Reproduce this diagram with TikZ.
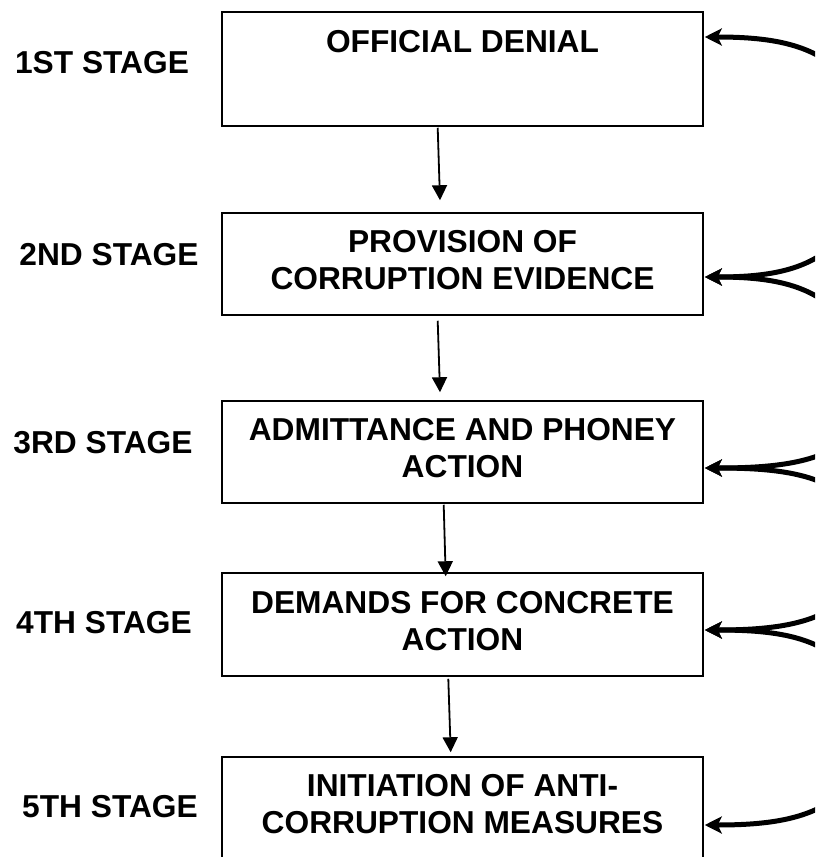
\documentclass[tikz,border=0pt]{standalone}
\usepackage{fontspec}
\setmainfont{Liberation Sans}
\usetikzlibrary{arrows.meta,positioning}
\begin{document}
\begin{tikzpicture}
[x=1pt,y=-1pt,
 box/.style = {draw, line width=1.5pt, minimum width=481pt, minimum height=102pt, inner sep=0pt, align=center, text depth=8pt, font=\fontsize{31.7}{37}\selectfont\bfseries},
 stage/.style = {inner sep=0pt, font=\fontsize{31.7}{37}\selectfont\bfseries},
 flow/.style = {line width=1.8pt, -{Triangle[length=15pt,width=15pt]}},
 back/.style = {line width=5pt, -{Stealth[length=17pt,width=17pt,inset=4pt]}},]

\useasboundingbox (0,0) rectangle (815,857);
\clip (0,0) rectangle (815,857);

% stages
\node [box, minimum height=114pt] (s1) at (462.5,69) {};
\node [stage, below=19pt of s1.north] (t1) {OFFICIAL DENIAL};
\node [box] (s2) at (462.5,264) {PROVISION OF\\CORRUPTION EVIDENCE};
\node [box] (s3) at (462.5,452) {ADMITTANCE AND PHONEY\\ACTION};
\node [box, minimum height=103pt] (s4) at (462.5,624.5) {DEMANDS FOR CONCRETE\\ACTION};
\node [box] (s5) at (462.5,808) {INITIATION OF ANTI-\\CORRUPTION MEASURES};

\node [stage] (l1) at (102,63) {1ST STAGE};
\node [stage] (l2) at (109,255) {2ND STAGE};
\node [stage] (l3) at (103,443) {3RD STAGE};
\node [stage] (l4) at (104,623) {4TH STAGE};
\node [stage] (l5) at (110,807) {5TH STAGE};

% down arrows
\draw [flow] ([xshift=-24.8pt,yshift=-1pt]s1.south) -- ([xshift=-22.5pt,yshift=12pt]s2.north);
\draw [flow] ([xshift=-24.8pt,yshift=-5pt]s2.south) -- ([xshift=-22.5pt,yshift=8pt]s3.north);
\draw [flow] ([xshift=-18.8pt,yshift=-1pt]s3.south) -- ([xshift=-16.8pt,yshift=-4pt]s4.north);
\draw [flow] ([xshift=-14.2pt,yshift=-2pt]s4.south) -- ([xshift=-11.8pt,yshift=4pt]s5.north);

% feedback from the right
\coordinate (h1) at ([xshift=1pt,yshift=32pt]s1.east);
\coordinate (h2) at ([xshift=1pt,yshift=-13pt]s2.east);
\coordinate (h3) at ([xshift=1pt,yshift=-16pt]s3.east);
\coordinate (h4) at ([xshift=1pt,yshift=-5.5pt]s4.east);
\coordinate (h5) at ([xshift=1pt,yshift=-17pt]s5.east);

\draw [back] (h1) ++(145,45) .. controls +(-30,-37) and +(70,0) .. (h1);
\draw [back] (h2) ++(145,-50) .. controls +(-30,42) and +(70,0) .. (h2);
\draw [back] (h2) ++(145,50) .. controls +(-30,-42) and +(70,0) .. (h2);
\draw [back] (h3) ++(145,-30) .. controls +(-30,25) and +(70,0) .. (h3);
\draw [back] (h3) ++(145,32) .. controls +(-30,-27) and +(70,0) .. (h3);
\draw [back] (h4) ++(145,-35) .. controls +(-30,29) and +(70,0) .. (h4);
\draw [back] (h4) ++(145,40) .. controls +(-30,-34) and +(70,0) .. (h4);
\draw [back] (h5) ++(145,-40) .. controls +(-30,33) and +(70,0) .. (h5);

\end{tikzpicture}
\end{document}
